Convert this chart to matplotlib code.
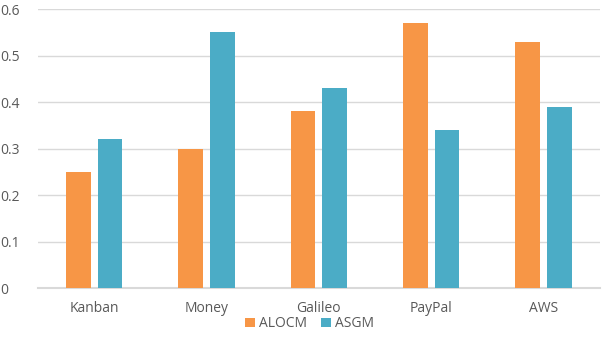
import matplotlib
matplotlib.use('Agg')
import matplotlib.pyplot as plt
import numpy as np

categories = ["Kanban", "Money", "Galileo", "PayPal", "AWS"]
alocm = [0.25, 0.30, 0.38, 0.57, 0.53]
asgm = [0.32, 0.55, 0.43, 0.34, 0.39]
yticks = [0, 0.1, 0.2, 0.3, 0.4, 0.5, 0.6]
ytick_labels = ["0", "0.1", "0.2", "0.3", "0.4", "0.5", "0.6"]

orange = "#F79646"
teal = "#4BACC6"
text_color = "#595959"

plt.rcParams['font.family'] = ['Open Sans', 'DejaVu Sans']

fig = plt.figure(figsize=(6.07, 3.52), dpi=100)
ax = fig.add_axes([0.0626, 0.1818, 0.9254, 0.7922])

x = np.arange(len(categories))
w = 0.22
gap = 0.03
ax.bar(x - w / 2 - gap, alocm, width=w, color=orange, label="ALOCM", zorder=3)
ax.bar(x + w / 2 + gap, asgm, width=w, color=teal, label="ASGM", zorder=3)

ax.set_xlim(-0.5, len(categories) - 0.5)
ax.set_ylim(0, 0.6)
ax.set_yticks(yticks)
ax.set_yticklabels(ytick_labels)
ax.set_xticks(x)
ax.set_xticklabels(categories)
ax.tick_params(length=0, colors=text_color, labelsize=10)
ax.tick_params(axis='y', pad=27)
ax.tick_params(axis='x', pad=9)
for lbl in ax.get_yticklabels():
    lbl.set_horizontalalignment('left')

ax.grid(axis='y', color='#D9D9D9', linewidth=1, zorder=0)
for s in ['top', 'right', 'left']:
    ax.spines[s].set_visible(False)
ax.spines['bottom'].set_color('#D9D9D9')
ax.spines['bottom'].set_linewidth(1.5)

fig.legend(loc='center', bbox_to_anchor=(0.51, 0.08), ncol=2, frameon=False,
           fontsize=10, handlelength=0.7, handleheight=0.7, handletextpad=0.3,
           columnspacing=1.0, labelcolor=text_color)

fig.savefig("out.png", dpi=100)
